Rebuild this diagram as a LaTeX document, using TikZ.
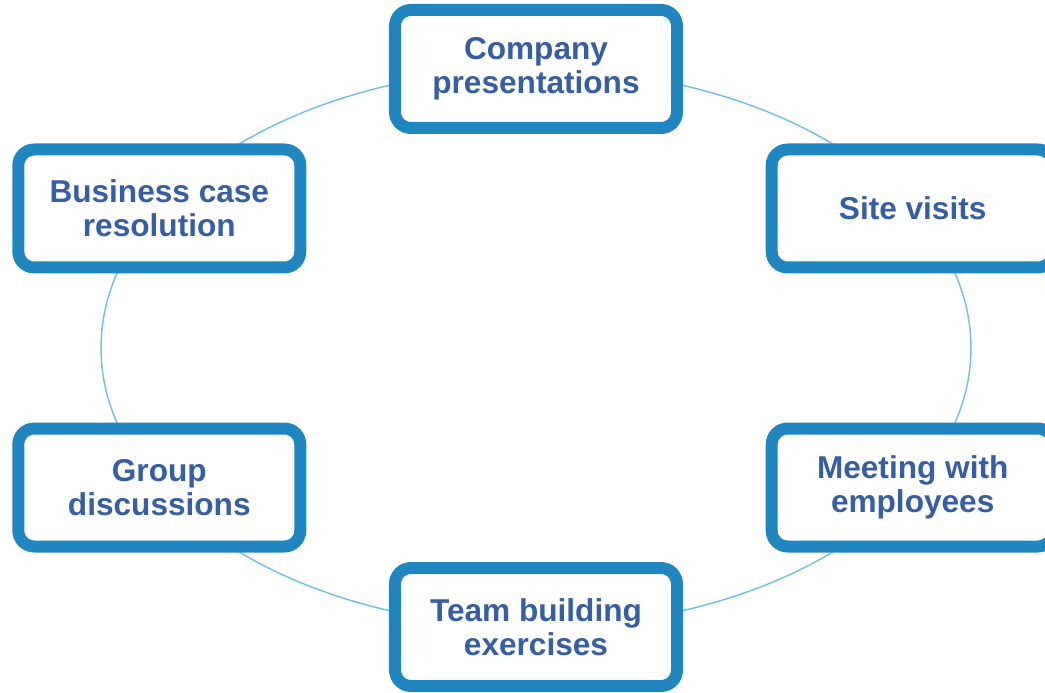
\documentclass[tikz,border=0pt]{standalone}
\usepackage{fontspec}
\setmainfont{Liberation Sans}
\definecolor{boxblue}{RGB}{31,134,192}
\definecolor{txtblue}{RGB}{52,94,165}
\definecolor{linkblue}{RGB}{110,192,234}
\pgfdeclarelayer{background}
\pgfsetlayers{background,main}
\tikzset{
  stagebox/.style={draw=boxblue, line width=9pt, fill=white, rounded corners=12pt,
    minimum width=211.5pt, minimum height=88.5pt, inner sep=0pt, align=center,
    text=txtblue, font=\fontsize{23.7pt}{25.5pt}\selectfont\bfseries},
  link/.style={draw=linkblue, line width=1.1pt},
  ringarc/.style={x radius=326.25pt, y radius=209.25pt, delta angle=60}
}
\begin{document}
\begin{tikzpicture}[x=0.75pt,y=0.75pt]
\useasboundingbox (-536,-344) rectangle (509,348);
\node[stagebox] (cp) at (0,279) {Company\\presentations};
\node[stagebox] (bc) at (-376.7,139.5) {Business case\\resolution};
\node[stagebox] (gd) at (-376.7,-139.5) {Group\\discussions};
\node[stagebox] (tb) at (0,-279) {Team building\\exercises};
\node[stagebox] (mw) at (376.7,-139.5) {Meeting with\\employees};
\node[stagebox] (sv) at (376.7,139.5) {Site visits};
\begin{pgfonlayer}{background}
\draw[link] (cp.center) arc[start angle=90, ringarc];
\draw[link] (bc.center) arc[start angle=150, ringarc];
\draw[link] (gd.center) arc[start angle=210, ringarc];
\draw[link] (tb.center) arc[start angle=270, ringarc];
\draw[link] (mw.center) arc[start angle=330, ringarc];
\draw[link] (sv.center) arc[start angle=30, ringarc];
\end{pgfonlayer}
\end{tikzpicture}
\end{document}
